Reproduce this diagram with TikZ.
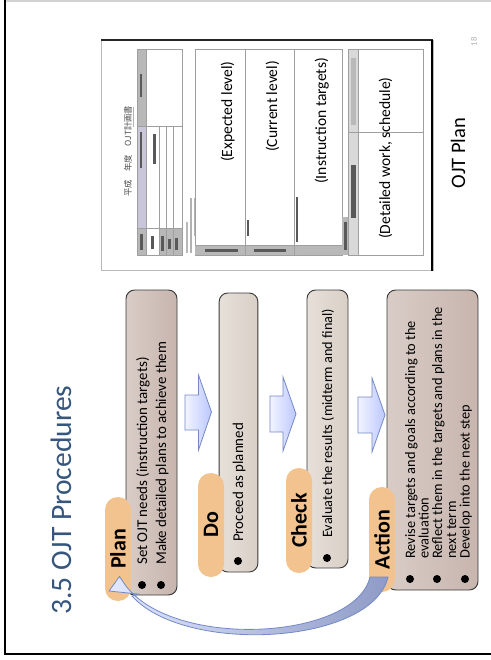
\documentclass[tikz,border=0pt]{standalone}
\usepackage{fontspec}
\setmainfont{Carlito}
\newfontfamily\jpfont{Noto Sans CJK JP}
\definecolor{titleblue}{HTML}{36567D}
\definecolor{tabfill}{HTML}{F2C38E}
\definecolor{boxline}{HTML}{3A3A3A}
\definecolor{warmA}{HTML}{D9CCC6}
\definecolor{warmB}{HTML}{E6DDD7}
\definecolor{warmC}{HTML}{C7B5AE}
\definecolor{paleA}{HTML}{E6E0D8}
\definecolor{paleB}{HTML}{F1EDE6}
\definecolor{paleC}{HTML}{D9CFC7}
\definecolor{arrowline}{HTML}{7389C6}
\definecolor{arrowpale}{HTML}{F2F4FF}
\definecolor{arrowdeep}{HTML}{BCC8FF}
\definecolor{bandpale}{HTML}{E2E8FF}
\definecolor{banddeep}{HTML}{8F9BC6}
\definecolor{formgray}{HTML}{B8B8B8}
\definecolor{formlav}{HTML}{CAC6DA}
\begin{document}
\begin{tikzpicture}[x=0.75pt,y=-0.75pt,
  stepbox/.style={draw=boxline,line width=0.7pt,rounded corners=6.5pt,inner sep=0pt},
  warmbox/.style={stepbox,left color=warmA,middle color=warmB,right color=warmC},
  palebox/.style={stepbox,left color=paleA,middle color=paleB,right color=paleC},
  tab/.style={fill=tabfill,rounded corners=9.6pt,rotate=90,inner sep=0pt,
    minimum height=19.5pt,font=\bfseries\fontsize{16.5}{18}\selectfont},
  dot/.style={circle,fill=black,inner sep=0pt,minimum size=6pt},
  itemtext/.style={rotate=90,anchor=base west,inner sep=0pt,font=\fontsize{11.2}{13}\selectfont},
  acttext/.style={itemtext,font=\fontsize{10.8}{12}\selectfont},
  blockarrow/.style={draw=arrowline,line width=0.6pt,left color=arrowpale,right color=arrowdeep},
  formrule/.style={draw=gray!75,line width=0.45pt},
  tinytext/.style={fill=gray!70!black},
  formlabel/.style={rotate=90,anchor=base west,inner sep=0pt,font=\fontsize{11.7}{13}\selectfont}
]
\useasboundingbox (0,0) rectangle (491,660);

% slide frame
\draw[gray!35,line width=1.2pt] (5,1) -- (491,1);
\draw[black,line width=2.2pt] (5,0) -- (5,654) -- (491,654);

% title
\node[rotate=90,anchor=base west,inner sep=0pt,text=titleblue,
  font=\fontsize{22.2}{24}\selectfont] (title) at (71,615) {3.5 OJT Procedures};

% step boxes
\node[warmbox,minimum width=38.25pt,minimum height=228.75pt] (plan) at (151.5,442.5) {};
\node[palebox,minimum width=29pt,minimum height=209.25pt] (do) at (238.5,432.5) {};
\node[palebox,minimum width=30.75pt,minimum height=208.5pt] (check) at (327.5,429) {};
\node[warmbox,minimum width=68.25pt,minimum height=225pt] (action) at (432.5,440) {};

% tabs with the step names
\node[tab,minimum width=78pt] (plantab) at (118,549) {Plan};
\node[tab,minimum width=78pt] (dotab) at (211,525) {Do};
\node[tab,minimum width=78.75pt] (checktab) at (299,520.5) {Check};
\node[tab,minimum width=78.75pt] (actiontab) at (382,539.5) {Action};

% block arrows between the steps
\draw[blockarrow] (185,395) -- (198.5,395) -- (198.5,375) -- (211.5,412) -- (198.5,450) -- (198.5,430) -- (185,430) -- cycle;
\draw[blockarrow] (270,396) -- (283,396) -- (283,377) -- (296,414) -- (283,451) -- (283,432) -- (270,432) -- cycle;
\draw[blockarrow] (358,397) -- (372,397) -- (372,378) -- (385,415) -- (372,452) -- (372,433) -- (358,433) -- cycle;

% curved return arrow from Action back to Plan
\coordinate (bandA) at (370,577);
\coordinate (bandB) at (388,577);
\draw[draw=arrowline,line width=0.6pt,left color=bandpale,right color=banddeep]
  (bandB) .. controls (372,645) and (185,655) .. (132,596)
  -- (138,594) -- (109,591) -- (119.5,576.5) -- (126,586)
  .. controls (175,650) and (355,640) .. (bandA) -- cycle;

% Plan items
\node[dot] (pd1) at (142,585) {};
\node[dot] (pd2) at (161,585) {};
\node[itemtext] (pt1) at (147,565) {Set OJT needs (instruction targets)};
\node[itemtext] (pt2) at (166,565) {Make detailed plans to achieve them};

% Do item
\node[dot] (dd1) at (238,561) {};
\node[itemtext] (dt1) at (243,542) {Proceed as planned};

% Check item
\node[dot] (cd1) at (327,558) {};
\node[itemtext,font=\fontsize{10.7}{12}\selectfont] (ct1) at (332,538) {Evaluate the results (midterm and final)};

% Action items
\node[dot] (ad1) at (410,579) {};
\node[dot] (ad2) at (437,579) {};
\node[dot] (ad3) at (465,579) {};
\node[acttext] (at1) at (415,559) {Revise targets and goals according to the};
\node[acttext] (at2) at (428.5,559) {evaluation};
\node[acttext] (at3) at (442,559) {Reflect them in the targets and plans in the};
\node[acttext] (at4) at (456,559) {next term};
\node[acttext] (at5) at (469.5,559) {Develop into the next step};

% ---- OJT plan form sheet ----
\draw[gray!55,line width=0.5pt,fill=white] (101,40) rectangle (433,270);
\draw[black!85,line width=0.8pt] (101,40) -- (433,40);
\draw[black,line width=2.2pt] (432,40) -- (432,271);

% form heading
\node[rotate=90,anchor=base west,inner sep=0pt,text=gray!60!black,
  font=\jpfont\fontsize{6.3}{7}\selectfont] (formhead) at (131,197) {平成　年度　OJT計画書};
\draw[gray!60,line width=0.4pt] (133,107) -- (133,127);

% header block
\fill[formgray] (137,49) rectangle (146,126);
\fill[formlav] (137,126) rectangle (146,228);
\fill[formgray] (137,228) rectangle (182,255);
\fill[white] (146,228) rectangle (159,255);
\path[formrule] (137,49) rectangle (182,255);
\path[formrule] (146,49) -- (146,255);
\path[formrule] (137,126) -- (182,126);
\path[formrule] (159,126) -- (159,255);
\path[formrule] (166,126) -- (166,255);
\path[formrule] (173,126) -- (173,255);
\path[formrule] (137,228) -- (182,228);
\fill[tinytext] (139.5,74) rectangle (142,97);
\fill[tinytext] (139.5,132) rectangle (142,168);
\fill[tinytext] (153,134) rectangle (156,164);
\fill[tinytext] (139.5,234) rectangle (142.5,250);
\fill[tinytext] (151,236) rectangle (154,249);
\fill[tinytext] (161,236) rectangle (164,251);
\fill[tinytext] (168,239) rectangle (171,249);
\fill[tinytext] (175,238) rectangle (178,250);
\fill[gray!55] (186,222) rectangle (188,253);
\fill[gray!60] (190,198) rectangle (192,253);
\fill[gray!60] (194,198) rectangle (196,236);

% main table
\path[formrule] (195,49) rectangle (342,255);
\fill[formgray] (195,245) rectangle (342,255);
\path[formrule] (195,245) -- (342,245);
\path[formrule] (245,49) -- (245,255);
\path[formrule] (294,49) -- (294,255);
\fill[tinytext] (205,248.5) rectangle (238,251.5);
\fill[tinytext] (254,248.5) rectangle (286,251.5);
\fill[gray!55] (300,248.5) rectangle (338,251.5);
\fill[tinytext] (246.5,220) rectangle (249,236);
\fill[tinytext] (295.5,197) rectangle (298,242);
\fill[formgray] (342,217) rectangle (348,255);
\fill[tinytext] (343.5,222) rectangle (346.5,250);
\node[formlabel] (lvlexp) at (232,162) {(Expected level)};
\node[formlabel] (lvlcur) at (277,152) {(Current level)};
\node[formlabel] (lvltgt) at (326,184) {(Instruction targets)};

% schedule table
\fill[gray!30] (348,49) rectangle (358,255);
\path[formrule] (348,49) rectangle (423,255);
\path[formrule] (358,49) -- (358,255);
\path[formrule] (348,132) -- (423,132);
\fill[tinytext] (351,165) rectangle (355.5,218);
\fill[gray!55] (351,58) rectangle (355.5,125);
\node[formlabel] (sched) at (390,239) {(Detailed work, schedule)};

% caption and page number
\node[rotate=90,anchor=base west,inner sep=0pt,font=\fontsize{15.4}{17}\selectfont] (caption) at (465,188.5) {OJT Plan};
\node[rotate=90,inner sep=0pt,text=gray!60,font=\fontsize{6.5}{7}\selectfont] (pagenum) at (474,42) {18};
\end{tikzpicture}
\end{document}
